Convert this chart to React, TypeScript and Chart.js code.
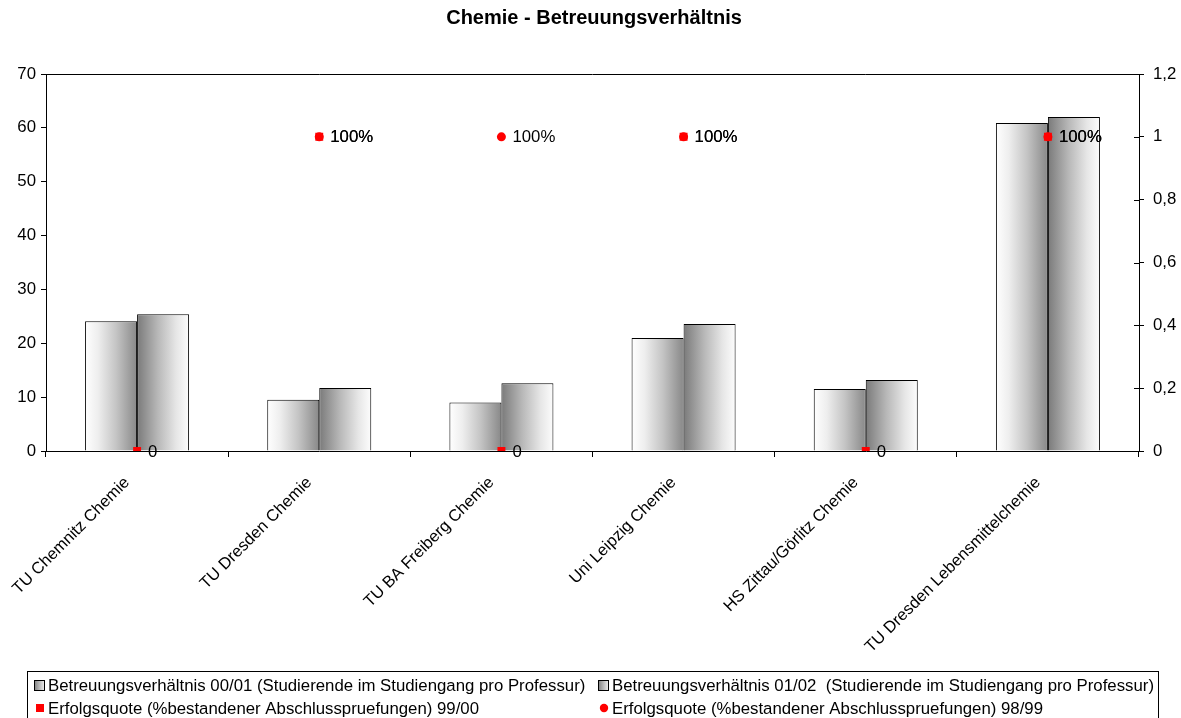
import React, { useEffect, useRef } from 'react';
import { Chart, registerables } from 'chart.js';

Chart.register(...registerables);

const FONT = "'Liberation Sans', Arial, Helvetica, sans-serif";

const chartTitle = 'Chemie - Betreuungsverhältnis';
const categories = [
  'TU Chemnitz Chemie',
  'TU Dresden Chemie',
  'TU BA Freiberg Chemie',
  'Uni Leipzig Chemie',
  'HS Zittau/Görlitz Chemie',
  'TU Dresden Lebensmittelchemie',
];
const ratio0001 = [24.1, 9.5, 9.0, 21.0, 11.5, 60.9];
const ratio0102 = [25.4, 11.7, 12.6, 23.6, 13.2, 62.0];
const success9900: (number | null)[] = [0, 1, 0, 1, 0, 1];
const success9899: (number | null)[] = [null, 1, 1, 1, null, 1];
const seriesLabels = [
  'Betreuungsverhältnis 00/01 (Studierende im Studiengang pro Professur)',
  'Betreuungsverhältnis 01/02  (Studierende im Studiengang pro Professur)',
  'Erfolgsquote (%bestandener Abschlusspruefungen) 99/00',
  'Erfolgsquote (%bestandener Abschlusspruefungen) 98/99',
];

const CAT_PCT = 0.571;
const TXT = 16.8;

function pctLabel(v: number): string {
  return v === 0 ? '0' : Math.round(v * 100) + '%';
}

function barGradient(ctx: any, dsIndex: number) {
  const chart = ctx.chart;
  const area = chart.chartArea;
  const xs = chart.scales.x;
  if (!area || !xs || ctx.dataIndex === undefined) return '#cccccc';
  const center = xs.getPixelForValue(ctx.dataIndex);
  const catW = area.width / categories.length;
  const barW = (catW * CAT_PCT) / 2;
  const left = dsIndex === 0 ? center - barW : center;
  const g = chart.ctx.createLinearGradient(left, 0, left + barW, 0);
  if (dsIndex === 0) {
    g.addColorStop(0, '#ffffff');
    g.addColorStop(0.25, '#eeeeee');
    g.addColorStop(0.6, '#c4c4c4');
    g.addColorStop(1, '#888888');
  } else {
    g.addColorStop(0, '#7a7a7a');
    g.addColorStop(0.4, '#b8b8b8');
    g.addColorStop(0.75, '#e6e6e6');
    g.addColorStop(1, '#fdfdfd');
  }
  return g;
}

const decorPlugin = {
  id: 'decor',
  afterDatasetsDraw(chart: any) {
    const ctx = chart.ctx;
    const { left, right, top } = chart.chartArea;
    ctx.save();
    ctx.strokeStyle = '#000';
    ctx.lineWidth = 1;
    ctx.beginPath();
    ctx.moveTo(left, Math.round(top) + 0.5);
    ctx.lineTo(right, Math.round(top) + 0.5);
    const y1 = chart.scales.y1;
    y1.ticks.forEach((_t: any, i: number) => {
      const y = Math.round(y1.getPixelForTick(i)) + 0.5;
      ctx.moveTo(right - 5, y);
      ctx.lineTo(right, y);
    });
    ctx.stroke();

    ctx.font = `${TXT}px ${FONT}`;
    ctx.fillStyle = '#000';
    ctx.textBaseline = 'middle';
    ctx.textAlign = 'left';
    chart.data.datasets.forEach((ds: any, di: number) => {
      if (ds.type !== 'line') return;
      const meta = chart.getDatasetMeta(di);
      meta.data.forEach((pt: any, i: number) => {
        const v = ds.data[i];
        if (v === null || v === undefined) return;
        ctx.fillText(pctLabel(v), pt.x + 11, pt.y + 1);
      });
    });
    ctx.restore();
  },
  afterDraw(chart: any) {
    const ctx = chart.ctx;
    ctx.save();
    // title
    ctx.font = `bold 20px ${FONT}`;
    ctx.fillStyle = '#000';
    ctx.textAlign = 'center';
    ctx.textBaseline = 'middle';
    ctx.fillText(chartTitle, 594, 18);

    // legend box
    ctx.strokeStyle = '#000';
    ctx.lineWidth = 1;
    ctx.strokeRect(27.5, 671.5, 1131, 60);

    ctx.font = `${TXT}px ${FONT}`;
    ctx.textAlign = 'left';
    const rows = [685, 708];
    const cols = [34, 598];
    const textX = [48, 612];
    seriesLabels.forEach((label, i) => {
      const col = i % 2;
      const row = Math.floor(i / 2);
      const cy = rows[row];
      const x0 = cols[col];
      if (row === 0) {
        const g = ctx.createLinearGradient(x0, 0, x0 + 11, 0);
        g.addColorStop(0, '#7c7c7c');
        g.addColorStop(1, '#f4f4f4');
        ctx.fillStyle = g;
        ctx.fillRect(x0, cy - 5, 11, 11);
        ctx.strokeStyle = '#000';
        ctx.strokeRect(x0 + 0.5, cy - 4.5, 10, 10);
      } else {
        ctx.fillStyle = '#ff0000';
        if (i === 2) {
          ctx.fillRect(x0 + 2, cy - 4, 8, 8);
        } else {
          ctx.beginPath();
          ctx.arc(x0 + 6, cy, 4.2, 0, Math.PI * 2);
          ctx.fill();
        }
      }
      ctx.fillStyle = '#000';
      ctx.fillText(label, textX[col], cy + 1);
    });
    ctx.restore();
  },
};

export default function App() {
  const canvasRef = useRef<HTMLCanvasElement | null>(null);

  useEffect(() => {
    const canvas = canvasRef.current;
    if (!canvas) return;
    Chart.defaults.font.family = FONT;
    Chart.defaults.color = '#000';
    const chart = new Chart(canvas, {
      type: 'bar',
      data: {
        labels: categories,
        datasets: [
          {
            type: 'line',
            label: seriesLabels[2],
            data: success9900,
            yAxisID: 'y1',
            showLine: false,
            pointStyle: 'rect',
            pointRadius: 5.6,
            pointBackgroundColor: '#ff0000',
            pointBorderColor: '#ff0000',
            pointBorderWidth: 0,
            order: 0,
          } as any,
          {
            type: 'line',
            label: seriesLabels[3],
            data: success9899,
            yAxisID: 'y1',
            showLine: false,
            pointStyle: 'circle',
            pointRadius: 4.5,
            pointBackgroundColor: '#ff0000',
            pointBorderColor: '#ff0000',
            pointBorderWidth: 0,
            order: -1,
          } as any,
          {
            type: 'bar',
            label: seriesLabels[0],
            data: ratio0001,
            yAxisID: 'y',
            backgroundColor: (c: any) => barGradient(c, 0),
            borderColor: '#000',
            borderWidth: 1,
            categoryPercentage: CAT_PCT,
            barPercentage: 1,
            order: 1,
          } as any,
          {
            type: 'bar',
            label: seriesLabels[1],
            data: ratio0102,
            yAxisID: 'y',
            backgroundColor: (c: any) => barGradient(c, 1),
            borderColor: '#000',
            borderWidth: 1,
            categoryPercentage: CAT_PCT,
            barPercentage: 1,
            order: 1,
          } as any,
        ],
      },
      options: {
        responsive: false,
        animation: false,
        events: [],
        layout: { padding: { top: 74, left: 0, right: 0, bottom: 0 } },
        plugins: {
          legend: { display: false },
          title: { display: false },
          tooltip: { enabled: false },
        },
        scales: {
          x: {
            offset: true,
            grid: {
              display: true,
              offset: true,
              drawOnChartArea: false,
              drawTicks: true,
              tickLength: 6,
              color: '#000',
            },
            border: { display: true, color: '#000', width: 1 },
            ticks: {
              autoSkip: false,
              minRotation: 45,
              maxRotation: 45,
              color: '#000',
              font: { size: 16.5 },
              padding: 16,
              labelOffset: -10,
            },
            afterFit: (s: any) => {
              s.height = 267;
            },
          },
          y: {
            position: 'left',
            min: 0,
            max: 70,
            ticks: { stepSize: 10, color: '#000', font: { size: TXT }, padding: 5 },
            grid: { drawOnChartArea: false, tickLength: 5, color: '#000' },
            border: { display: true, color: '#000', width: 1 },
            afterFit: (s: any) => {
              s.width = 46;
            },
          },
          y1: {
            position: 'right',
            min: 0,
            max: 1.2,
            ticks: {
              stepSize: 0.2,
              color: '#000',
              font: { size: TXT },
              padding: 9,
              callback: (v: any) =>
                Number(v).toFixed(1).replace(/\.0$/, '').replace('.', ','),
            },
            grid: { drawOnChartArea: false, tickLength: 5, color: '#000' },
            border: { display: true, color: '#000', width: 1 },
            afterFit: (s: any) => {
              s.width = 42;
            },
          },
        },
      },
      plugins: [decorPlugin],
    });
    return () => chart.destroy();
  }, []);

  return (
    <div style={{ position: 'fixed', left: 0, top: 0, width: 1181, height: 718, background: '#fff' }}>
      <canvas ref={canvasRef} width={1181} height={718} style={{ display: 'block' }} />
    </div>
  );
}
